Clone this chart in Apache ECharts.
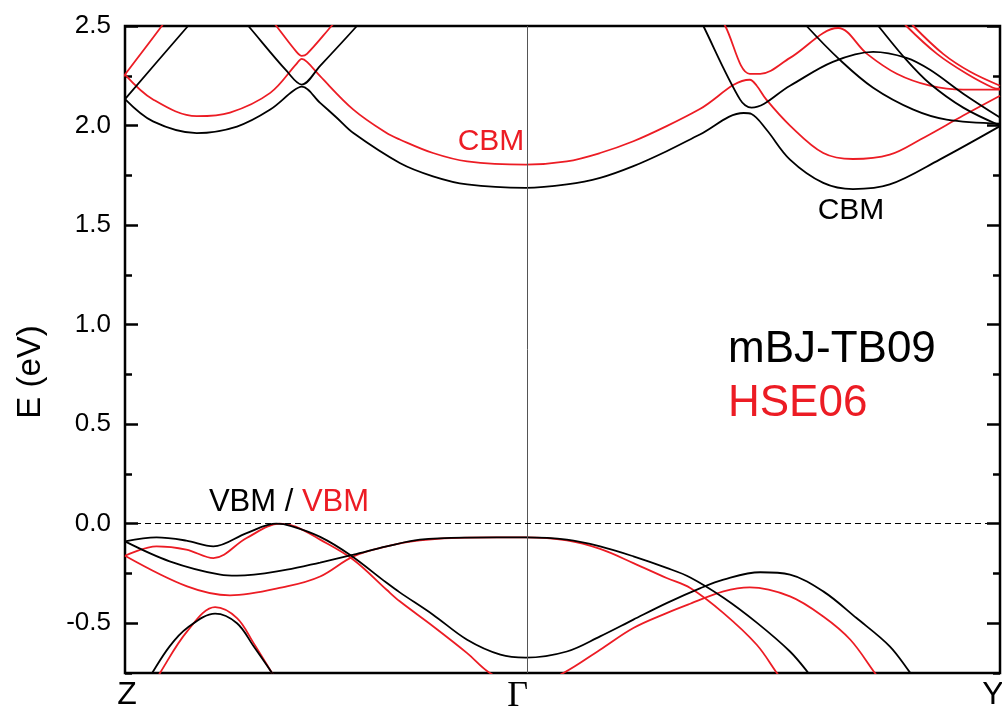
<!DOCTYPE html>
<html>
<head>
<meta charset="utf-8">
<title>Band structure</title>
<script src="https://cdn.jsdelivr.net/npm/echarts@6/dist/echarts.min.js"></script>
<style>
  html, body { margin: 0; padding: 0; background: #fff; }
  #chart { width: 1002px; height: 709px; }
</style>
</head>
<body>
<div id="chart"></div>
<script>
// k 路径: Z=0, Γ=0.458, Y=1
var kTicks = [0, 0.458, 1];
var kLabels = ['Z', 'Γ', 'Y'];
var eTicks = [-0.5, 0, 0.5, 1.0, 1.5, 2.0, 2.5];

// mBJ-TB09 (黑) 价带
var mbjV1 = [[0,-0.089],[0.036,-0.069],[0.07,-0.085],[0.101,-0.114],[0.139,-0.047],[0.173,0],[0.19,-0.012],
  [0.223,-0.066],[0.257,-0.156],[0.299,-0.297],[0.314,-0.345],[0.352,-0.457],[0.391,-0.583],[0.429,-0.658],
  [0.458,-0.673],[0.505,-0.642],[0.543,-0.566],[0.581,-0.482],[0.619,-0.399],[0.657,-0.325],[0.684,-0.281],
  [0.726,-0.244],[0.76,-0.256],[0.798,-0.34],[0.836,-0.474],[0.874,-0.616],[0.897,-0.747],[0.902,-0.78]];
var mbjV2 = [[0,-0.089],[0.051,-0.189],[0.109,-0.256],[0.128,-0.261],[0.185,-0.231],[0.223,-0.195],[0.261,-0.156],
  [0.299,-0.114],[0.337,-0.08],[0.391,-0.07],[0.458,-0.069],[0.505,-0.08],[0.543,-0.114],[0.581,-0.164],
  [0.619,-0.222],[0.646,-0.27],[0.684,-0.372],[0.722,-0.497],[0.76,-0.642],[0.781,-0.75],[0.785,-0.78]];
var mbjV3 = [[0.025,-0.8],[0.031,-0.75],[0.051,-0.616],[0.071,-0.524],[0.103,-0.452],[0.128,-0.5],[0.147,-0.616],[0.168,-0.75],[0.172,-0.78]];
// mBJ-TB09 导带
var mbjC1 = [[0,2.133],[0.032,2.021],[0.082,1.962],[0.128,1.995],[0.166,2.08],[0.192,2.173],[0.202,2.195],[0.223,2.114],
  [0.242,2.039],[0.261,1.962],[0.314,1.812],[0.352,1.745],[0.391,1.704],[0.458,1.687],[0.505,1.704],[0.543,1.737],
  [0.581,1.796],[0.619,1.871],[0.657,1.955],[0.707,2.063],[0.716,2.058],[0.733,1.98],[0.76,1.829],[0.798,1.712],
  [0.832,1.681],[0.874,1.704],[0.931,1.829],[1,1.997]];
var mbjC2 = [[-0.006,2.1],[0,2.133],[0.072,2.5],[0.078,2.53]];
var mbjC3 = [[0.135,2.53],[0.141,2.5],[0.185,2.273],[0.202,2.206],[0.223,2.30],[0.265,2.5],[0.27,2.53]];
var mbjC4 = [[0.655,2.56],[0.661,2.5],[0.703,2.13],[0.716,2.09],[0.76,2.2],[0.809,2.32],[0.855,2.37],[0.893,2.34],
  [0.92,2.28],[0.958,2.16],[1,2.04]];
var mbjC5 = [[0.775,2.53],[0.779,2.5],[0.817,2.33],[0.855,2.19],[0.901,2.08],[0.939,2.03],[1,2.01]];
var mbjC6 = [[0.856,2.53],[0.861,2.5],[0.893,2.33],[0.92,2.21],[0.958,2.09],[1,2.0]];

// HSE06 (红) 价带
var hseV1 = [[0,-0.161],[0.036,-0.114],[0.07,-0.13],[0.101,-0.173],[0.139,-0.072],[0.177,0],[0.195,-0.015],
  [0.223,-0.08],[0.261,-0.181],[0.299,-0.332],[0.314,-0.39],[0.352,-0.515],[0.391,-0.65],[0.417,-0.75],
  [0.458,-0.83],[0.501,-0.75],[0.543,-0.633],[0.581,-0.524],[0.619,-0.449],[0.646,-0.402],[0.684,-0.34],
  [0.714,-0.32],[0.76,-0.365],[0.798,-0.466],[0.829,-0.583],[0.857,-0.75],[0.862,-0.78]];
var hseV2 = [[0,-0.161],[0.071,-0.315],[0.12,-0.36],[0.185,-0.315],[0.223,-0.265],[0.261,-0.164],[0.299,-0.114],
  [0.337,-0.084],[0.391,-0.07],[0.458,-0.069],[0.505,-0.084],[0.543,-0.127],[0.581,-0.198],[0.619,-0.273],
  [0.646,-0.323],[0.684,-0.449],[0.722,-0.608],[0.745,-0.75],[0.75,-0.78]];
var hseV3 = [[0.034,-0.8],[0.04,-0.75],[0.071,-0.541],[0.103,-0.419],[0.128,-0.474],[0.147,-0.6],[0.168,-0.75],[0.172,-0.78]];
// HSE06 导带
var hseC1 = [[0,2.256],[0.032,2.131],[0.082,2.047],[0.12,2.065],[0.166,2.164],[0.196,2.31],[0.202,2.335],[0.208,2.32],
  [0.223,2.248],[0.261,2.08],[0.299,1.962],[0.314,1.93],[0.352,1.862],[0.391,1.82],[0.458,1.804],[0.505,1.82],
  [0.543,1.862],[0.581,1.921],[0.619,1.997],[0.657,2.083],[0.714,2.23],[0.722,2.2],[0.733,2.13],[0.76,2.0],
  [0.798,1.862],[0.832,1.832],[0.874,1.854],[0.909,1.93],[0.958,2.05],[1,2.15]];
var hseC2 = [[-0.004,2.23],[0,2.256],[0.042,2.5],[0.046,2.53]];
var hseC3 = [[0.168,2.53],[0.173,2.5],[0.196,2.37],[0.202,2.35],[0.208,2.36],[0.236,2.5],[0.242,2.53]];
var hseC4 = [[0.682,2.53],[0.686,2.5],[0.714,2.26],[0.726,2.26],[0.76,2.34],[0.815,2.49],[0.848,2.36],[0.882,2.26],
  [0.92,2.2],[0.958,2.18],[1,2.18]];
var hseC5 = [[0.889,2.53],[0.893,2.5],[0.928,2.36],[0.962,2.26],[0.992,2.19],[1,2.185]];
var hseC6 = [[0.897,2.53],[0.901,2.5],[0.935,2.36],[0.966,2.27],[1,2.2]];

var mbjBands = [mbjV1, mbjV2, mbjV3, mbjC1, mbjC2, mbjC3, mbjC4, mbjC5, mbjC6];
var hseBands = [hseV1, hseV2, hseV3, hseC1, hseC2, hseC3, hseC4, hseC5, hseC6];

(function() {
  var myChart = echarts.init(document.getElementById('chart'));
  var font = '"Liberation Sans", Arial, sans-serif';
  var red = '#ec1c24';

  function bandSeries(data, color, name) {
    return {
      name: name,
      type: 'line',
      data: data,
      showSymbol: false,
      smooth: 0.35,
      clip: true,
      silent: true,
      lineStyle: { color: color, width: 1.8 },
      z: color === red ? 3 : 4
    };
  }

  var series = [];
  mbjBands.forEach(function(b, i) { series.push(bandSeries(b, '#000', 'mBJ' + i)); });
  hseBands.forEach(function(b, i) { series.push(bandSeries(b, red, 'HSE' + i)); });
  // Γ 竖线和 0 eV 虚线
  series[0].markLine = {
    silent: true,
    symbol: 'none',
    label: { show: false },
    data: [
      { xAxis: kTicks[1], lineStyle: { color: '#555', width: 1, type: 'solid' } },
      { yAxis: 0, lineStyle: { color: '#000', width: 1, type: [6, 4] } }
    ]
  };

  function yAxisBase(pos) {
    return {
      type: 'value', min: -0.75, max: 2.5, interval: 0.25, position: pos,
      axisLine: { show: false },
      splitLine: { show: false },
      axisLabel: { show: false }
    };
  }
  var yMajorL = yAxisBase('left');
  yMajorL.axisTick = { inside: true, length: 13, customValues: eTicks, lineStyle: { color: '#000', width: 2.5 } };
  yMajorL.axisLabel = {
    show: true, customValues: eTicks, margin: 14, color: '#000', fontSize: 26, fontFamily: font,
    formatter: function(v) { return v.toFixed(1); }
  };
  var yMinorL = yAxisBase('left');
  yMinorL.axisTick = { inside: true, length: 7, lineStyle: { color: '#000', width: 2.5 } };
  var yMajorR = yAxisBase('right');
  yMajorR.axisTick = { inside: true, length: 13, customValues: eTicks, lineStyle: { color: '#000', width: 2.5 } };
  var yMinorR = yAxisBase('right');
  yMinorR.axisTick = { inside: true, length: 7, lineStyle: { color: '#000', width: 2.5 } };

  var option = {
    animation: false,
    backgroundColor: '#fff',
    grid: {
      left: 125, right: 2, top: 26, bottom: 36,
      outerBoundsMode: 'none',
      show: true, borderColor: '#000', borderWidth: 2.5
    },
    xAxis: {
      type: 'value', min: 0, max: 1,
      axisLine: { show: false },
      axisTick: { show: false },
      splitLine: { show: false },
      axisLabel: {
        customValues: kTicks, margin: 6, color: '#000', fontSize: 32, fontFamily: font,
        formatter: function(v) {
          var i = 0;
          kTicks.forEach(function(t, j) { if (Math.abs(t - v) < 1e-3) i = j; });
          if (i === 1) return '{g|' + kLabels[i] + '}';
          if (i === 2) return '{y|' + kLabels[i] + '}';
          return '{z|' + kLabels[i] + '}';
        },
        rich: {
          z: { fontSize: 32, fontFamily: font, color: '#000', padding: [0, 0, 0, 4] },
          g: { fontFamily: '"Liberation Serif", "DejaVu Serif", serif', fontSize: 36, color: '#000', padding: [0, 16, 0, 0] },
          y: { fontSize: 32, fontFamily: font, color: '#000', padding: [0, 14, 0, 0] }
        }
      }
    },
    yAxis: [yMajorL, yMinorL, yMajorR, yMinorR],
    series: series,
    graphic: [
      { type: 'text', x: 31, y: 372, rotation: Math.PI / 2,
        style: { text: 'E (eV)', fill: '#000', fontSize: 33, fontFamily: font, align: 'center', verticalAlign: 'middle' } },
      { type: 'text', x: 491, y: 142,
        style: { text: 'CBM', fill: red, fontSize: 30, fontFamily: font, align: 'center', verticalAlign: 'middle' } },
      { type: 'text', x: 851, y: 211,
        style: { text: 'CBM', fill: '#000', fontSize: 30, fontFamily: font, align: 'center', verticalAlign: 'middle' } },
      { type: 'text', x: 289, y: 502,
        style: { text: '{a|VBM / }{b|VBM}', fontSize: 31, fontFamily: font, align: 'center', verticalAlign: 'middle',
          rich: { a: { fill: '#000', fontSize: 31, fontFamily: font }, b: { fill: red, fontSize: 31, fontFamily: font } } } },
      { type: 'text', x: 728, y: 350,
        style: { text: 'mBJ-TB09', fill: '#000', fontSize: 44, fontFamily: font, align: 'left', verticalAlign: 'middle' } },
      { type: 'text', x: 728, y: 404,
        style: { text: 'HSE06', fill: red, fontSize: 44, fontFamily: font, align: 'left', verticalAlign: 'middle' } }
    ]
  };
  myChart.setOption(option);
  window.addEventListener('resize', function() {
    myChart.resize();
  });
})();
</script>
</body>
</html>
